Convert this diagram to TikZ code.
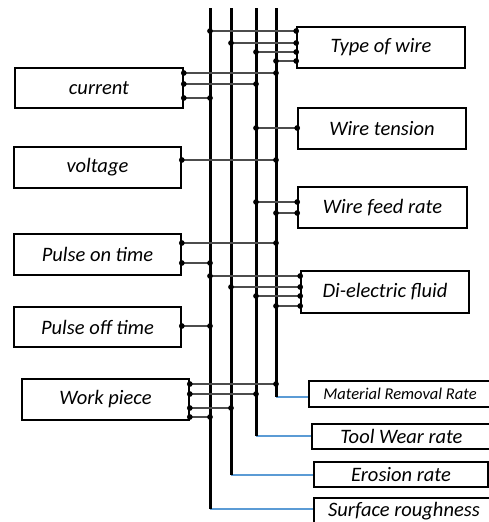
\documentclass[tikz,border=0pt]{standalone}
\usepackage{fontspec}
\setmainfont{Carlito}
\usetikzlibrary{arrows.meta}
\definecolor{outblue}{RGB}{91,155,213}
\tikzset{
    box/.style={draw, line width=1.6pt, inner sep=0pt, font=\fontsize{20.5}{24}\selectfont\itshape},
    small/.style={font=\fontsize{16.5}{20}\selectfont\itshape},
    rail/.style={line width=3pt},
    link/.style={line width=1.1pt, black!70, {Circle[length=5.6pt,color=black]}-{Circle[length=5.6pt,color=black]}, shorten <=-2.8pt, shorten >=-2.8pt},
    outlink/.style={line width=2pt, outblue}
}
\begin{document}
\begin{tikzpicture}[x=1pt, y=-1pt]
                \useasboundingbox (0,0) rectangle (489,522);
                \node[box, minimum width=168pt, minimum height=40pt] (cur) at (99, 88) {current};
                \node[box, minimum width=167pt, minimum height=41pt] (volt) at (97.5, 167.5) {voltage};
                \node[box, minimum width=167pt, minimum height=41pt] (pon) at (97.5, 254.5) {Pulse on time};
                \node[box, minimum width=167pt, minimum height=40pt] (poff) at (97.5, 327) {Pulse off time};
                \node[box, minimum width=167pt, minimum height=41pt] (work) at (105.5, 399.5) {Work piece};
                \node[box, minimum width=168pt, minimum height=41pt] (tow) at (381, 47.5) {Type of wire};
                \node[box, minimum width=168pt, minimum height=41pt] (wt) at (382, 128.5) {Wire tension};
                \node[box, minimum width=169pt, minimum height=41pt] (wfr) at (382.5, 207.5) {Wire feed rate};
                \node[box, minimum width=168pt, minimum height=42pt] (def) at (385, 292) {Di-electric fluid};
                \node[box, small, minimum width=182pt, minimum height=26pt] (mrr) at (400, 394) {Material Removal Rate};
                \node[box, minimum width=179pt, minimum height=25pt] (twr) at (401.5, 436.5) {Tool Wear rate};
                \node[box, minimum width=174pt, minimum height=25pt] (er) at (401, 474.5) {Erosion rate};
                \node[box, minimum width=180pt, minimum height=26pt] (sr) at (404, 511) {Surface roughness};
                \coordinate (a1) at (210, 8);
                \coordinate (b1) at (210, 509);
                \coordinate (a2) at (231, 8);
                \coordinate (b2) at (231, 475);
                \coordinate (a3) at (256, 8);
                \coordinate (b3) at (256, 436);
                \coordinate (a4) at (276, 8);
                \coordinate (b4) at (276, 397);
                \draw[outlink] (b4) to (mrr.west |- b4);
                \draw[outlink] (b3) to (twr.west |- b3);
                \draw[outlink] (b2) to (er.west |- b2);
                \draw[outlink] (b1) to (sr.west |- b1);
                \draw[rail] (a1) to (b1);
                \draw[rail] (a2) to (b2);
                \draw[rail] (a3) to (b3);
                \draw[rail] (a4) to (b4);
                \draw[link] (a1 |- 0,31) to (tow.west |- 0,31);
                \draw[link] (a2 |- 0,43) to (tow.west |- 0,43);
                \draw[link] (a3 |- 0,52) to (tow.west |- 0,52);
                \draw[link] (a4 |- 0,61) to (tow.west |- 0,61);
                \draw[link] (cur.east |- 0,73) to (a4 |- 0,73);
                \draw[link] (cur.east |- 0,84) to (a3 |- 0,84);
                \draw[link] (cur.east |- 0,98) to (a1 |- 0,98);
                \draw[link] (a3 |- 0,128) to (wt.west |- 0,128);
                \draw[link] (volt.east |- 0,160) to (a4 |- 0,160);
                \draw[link] (a3 |- 0,202) to (wfr.west |- 0,202);
                \draw[link] (a4 |- 0,213) to (wfr.west |- 0,213);
                \draw[link] (pon.east |- 0,243) to (a4 |- 0,243);
                \draw[link] (pon.east |- 0,263) to (a1 |- 0,263);
                \draw[link] (a1 |- 0,276) to (def.west |- 0,276);
                \draw[link] (a2 |- 0,287) to (def.west |- 0,287);
                \draw[link] (a3 |- 0,296) to (def.west |- 0,296);
                \draw[link] (a4 |- 0,306) to (def.west |- 0,306);
                \draw[link] (poff.east |- 0,326) to (a1 |- 0,326);
                \draw[link] (work.east |- 0,384) to (a4 |- 0,384);
                \draw[link] (work.east |- 0,394) to (a3 |- 0,394);
                \draw[link] (work.east |- 0,408) to (a2 |- 0,408);
                \draw[link] (work.east |- 0,417) to (a1 |- 0,417);
    \end{tikzpicture}
\end{document}
